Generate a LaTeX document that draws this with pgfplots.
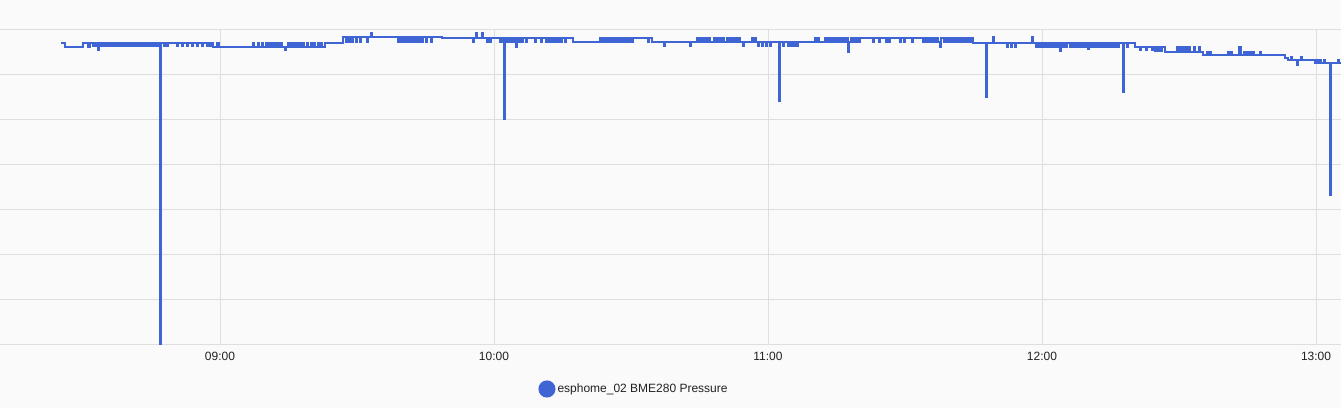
\documentclass[border=0pt]{standalone}
\usepackage{pgfplots}
\pgfplotsset{compat=1.18}
\usepackage{fontspec}
\setmainfont{Liberation Sans}
\definecolor{hablue}{HTML}{3F65D5}
\definecolor{bgcol}{HTML}{FAFAFA}
\definecolor{gridgray}{HTML}{DEDEDE}
\definecolor{labelgray}{HTML}{222222}
\begin{document}
\begin{tikzpicture}
\path[use as bounding box, fill=bgcol] (0pt,0pt) rectangle (1341pt,408pt);
\begin{axis}[
  at={(0pt,64pt)}, anchor=south west,
  scale only axis, width=1341pt, height=315pt,
  xmin=0, xmax=1341, ymin=29, ymax=344, y dir=reverse,
  axis line style={draw=none},
  xtick={220,494,768,1042,1316},
  xticklabels={09:00,10:00,11:00,12:00,13:00},
  ytick={29,74,119,164,209,254,299,344}, yticklabels={},
  grid=major, major grid style={draw=gridgray, line width=0.9pt},
  major tick length=0pt,
  tick label style={font=\fontsize{12}{14}\selectfont, text=labelgray},
  xticklabel style={yshift=-5pt},
  legend style={at={(0.4728,-0.1428)}, anchor=center, draw=none, fill=none,
    font=\fontsize{12}{14}\selectfont, text=labelgray},
  legend image code/.code={\fill[hablue] (4pt,0pt) circle (8pt);},
]
\addplot[const plot, hablue, line width=1.1pt] coordinates {
(61,43)(65,47)(83,43)(88,47)(90,43)(93,46)(94,43)(96,46)(97,43)(98,50)(99,43)
(100,46)(101,43)(103,46)(104,43)(106,46)(107,43)(109,46)(110,43)(112,46)(113,43)
(115,46)(116,43)(118,46)(119,43)(121,46)(122,43)(124,46)(125,43)(127,46)(128,43)
(130,46)(131,43)(133,46)(134,43)(136,46)(137,43)(139,46)(140,43)(142,46)(143,43)
(145,46)(146,43)(148,46)(149,43)(151,46)(152,43)(154,46)(155,43)(157,46)(158,43)
(160,352)(161,43)
(164,46)(165,43)(167,46)(168,43)
(177,46)(178,43)(182,46)(183,43)(187,46)(188,43)(192,46)(193,43)(197,46)(198,43)
(202,46)(203,43)(207,46)(208,43)(210,46)(211,43)
(213,47)(217,43)(219,47)
(253,43)(254,47)(258,43)(259,47)(262,43)(263,47)
(266,43)(267,47)(269,43)(270,47)(272,43)(273,47)(275,43)(276,47)(278,43)(279,47)
(281,43)(282,47)(285,50)(286,47)(288,43)(289,47)(291,43)(292,47)(294,43)(295,47)
(297,43)(298,47)(300,43)(301,47)(303,43)(304,47)(307,43)(308,47)(311,43)(312,47)
(314,43)(315,47)(318,43)(319,47)(321,43)(322,47)
(325,43)(343,37)
(346,42)(347,37)(349,42)(350,37)(352,42)(353,37)(356,42)(357,37)(360,42)(361,37)
(367,42)(368,37)(371,33)(372,37)
(398,42)(399,37)(401,42)(402,37)(404,42)(405,37)(407,42)(408,37)(410,42)(411,37)
(413,42)(414,37)(416,42)(417,37)(419,42)(420,37)(422,42)(423,37)(426,42)(427,37)
(431,42)(432,37)
(442,38)
(473,42)(474,38)(476,33)(477,38)(482,33)(483,38)(487,42)(488,38)(490,42)(491,38)
(500,42)(501,38)(503,42)(504,119)(505,38)(507,42)(508,38)(510,42)(511,38)(513,42)(514,38)
(516,47)(517,38)(519,42)(520,38)(522,42)(523,38)(526,42)(527,38)
(535,42)(536,38)(541,42)(542,38)
(546,42)(547,38)(549,42)(550,38)(552,42)(553,38)(555,42)(556,38)(558,42)(559,38)
(561,42)(562,38)(565,42)(566,38)
(573,42)
(600,38)(601,42)(603,38)(604,42)(606,38)(607,42)(609,38)(610,42)(612,38)(613,42)
(615,38)(616,42)(618,38)(619,42)(621,38)(622,42)(624,38)(625,42)(627,38)(628,42)
(630,38)(631,42)(633,38)
(648,42)(649,38)(652,42)(654,42)
(664,46)(665,42)(690,46)(691,42)
(697,38)(698,42)(700,38)(701,42)(703,38)(704,42)(706,38)(707,42)(709,38)(710,42)
(714,38)(715,42)(717,38)(718,42)(720,38)(721,42)(723,38)(724,42)(727,38)(728,42)
(730,38)(731,42)(733,38)(734,42)(736,38)(737,42)(739,38)(740,42)
(743,46)(744,42)(752,38)(753,42)(755,38)(756,42)
(758,46)(759,42)(762,46)(763,42)(766,46)(767,42)(770,46)(771,42)
(779,101)(780,42)
(783,46)(784,42)(788,46)(789,42)(791,46)(792,42)(794,46)(795,42)(797,46)(798,42)
(815,38)(816,42)(818,38)(819,42)
(825,38)(826,42)(828,38)(829,42)(831,38)(832,42)(834,38)(835,42)(837,38)(838,42)
(840,38)(841,42)(843,38)(844,42)(846,38)(848,52)(849,42)(851,38)(852,42)(854,38)
(855,42)(857,38)(858,42)
(860,38)
(873,42)(874,38)(879,42)(880,38)
(886,42)(887,38)(889,42)(890,38)(900,42)(901,38)(904,42)(905,38)(912,42)(913,38)
(923,42)(924,38)(926,42)(927,38)(929,42)(930,38)(932,42)(933,38)(935,42)(936,38)
(938,42)(940,47)(941,38)(944,42)(945,38)(947,42)(948,38)(950,42)(951,38)(953,42)
(954,38)(956,42)(957,38)(959,42)(960,38)(962,42)(963,38)(965,42)(966,38)(968,42)
(969,38)(971,42)(972,38)
(973,43)(986,97)(987,43)(993,37)(994,43)
(1007,47)(1008,43)(1011,47)(1012,43)(1015,47)(1016,43)(1032,37)(1033,43)
(1036,47)(1037,43)(1039,47)(1040,43)(1042,47)(1043,43)(1045,47)(1046,43)(1048,47)
(1049,43)(1051,47)(1052,43)(1054,47)(1055,43)(1057,47)(1058,43)(1060,51)(1061,43)
(1063,47)(1064,43)(1066,47)(1067,43)(1070,47)(1071,43)(1073,47)(1074,43)(1076,47)
(1077,43)(1079,47)(1080,43)(1082,47)(1083,43)(1085,47)(1086,43)(1088,49)(1089,43)
(1091,47)(1092,43)(1094,47)(1095,43)(1097,47)(1098,43)(1100,47)(1101,43)(1103,47)
(1104,43)(1106,47)(1107,43)(1109,47)(1110,43)(1112,47)(1113,43)(1115,47)(1116,43)
(1118,47)(1119,43)
(1123,92)(1124,43)(1127,47)(1128,43)
(1135,47)(1140,50)(1141,47)(1146,50)(1147,47)
(1152,50)(1153,47)(1155,51)(1156,47)(1158,51)(1159,47)(1161,51)(1162,47)
(1165,52)
(1177,47)(1178,52)(1180,47)(1181,52)(1183,47)(1184,52)(1186,47)(1187,52)(1189,47)
(1190,52)(1194,47)(1195,52)(1199,47)(1200,52)
(1203,55)(1207,52)(1208,55)(1210,52)(1211,55)
(1228,52)(1229,55)(1231,52)(1232,55)
(1239,47)(1241,55)
(1244,52)(1245,55)(1247,52)(1248,55)(1250,52)(1251,55)(1253,52)(1254,55)(1260,52)(1261,55)
(1285,58)(1288,60)(1291,57)(1292,60)(1297,65)(1298,60)(1301,57)(1302,60)
(1315,63)(1317,60)(1318,63)(1320,60)(1321,63)(1324,60)(1325,63)
(1330,195)(1331,63)(1338,60)(1339,63)(1341,63)
};
\addlegendentry{esphome\_02 BME280 Pressure}
\end{axis}
\end{tikzpicture}
\end{document}
